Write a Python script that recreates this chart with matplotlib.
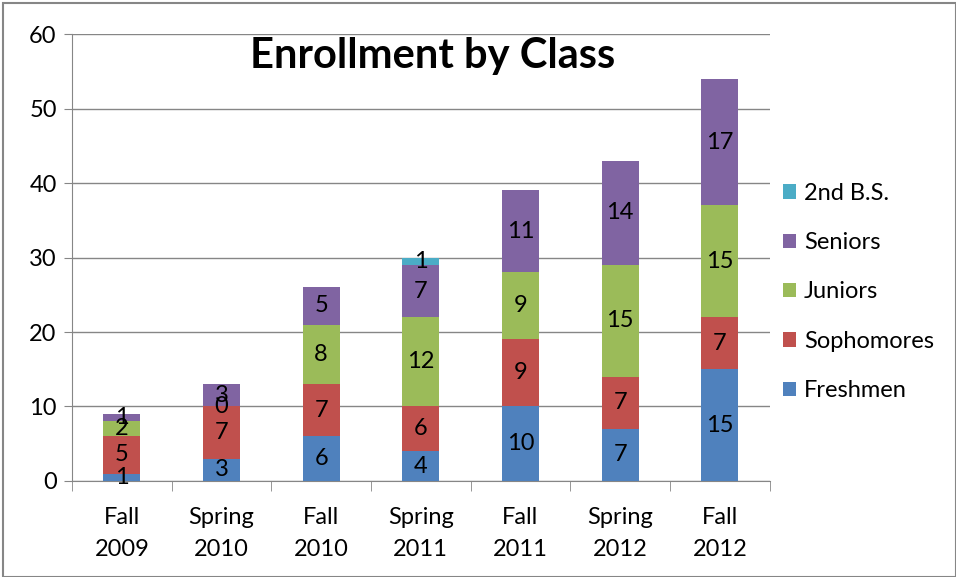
import numpy as np
import matplotlib.pyplot as plt
from matplotlib.patches import Rectangle

plt.rcParams['font.family'] = ['Lato', 'DejaVu Sans']

# chart data
terms = ['Fall\n2009', 'Spring\n2010', 'Fall\n2010', 'Spring\n2011', 'Fall\n2011', 'Spring\n2012', 'Fall\n2012']
freshmen = [1, 3, 6, 4, 10, 7, 15]
sophomores = [5, 7, 7, 6, 9, 7, 7]
juniors = [2, 0, 8, 12, 9, 15, 15]
seniors = [1, 3, 5, 7, 11, 14, 17]
second_bs = [None, None, None, 1, None, None, None]

series = [('Freshmen', freshmen, '#4F81BD'),
          ('Sophomores', sophomores, '#C0504D'),
          ('Juniors', juniors, '#9BBB59'),
          ('Seniors', seniors, '#8064A2'),
          ('2nd B.S.', second_bs, '#4BACC6')]

fig = plt.figure(figsize=(9.56, 5.77), dpi=100)
ax = fig.add_axes([0.0753, 0.1664, 0.7297, 0.7746])

x = np.arange(len(terms))
bottom = np.zeros(len(terms))
handles = []
for name, vals, color in series:
    v = np.array([0 if a is None else a for a in vals], dtype=float)
    bars = ax.bar(x, v, 0.37, bottom=bottom, color=color, label=name, zorder=3)
    handles.append(bars)
    for i, a in enumerate(vals):
        if a is None:
            continue
        ax.text(x[i], bottom[i] + v[i] / 2, str(a), ha='center', va='center',
                fontsize=17, zorder=4)
    bottom += v

ax.set_xlim(-0.5, len(terms) - 0.5)
ax.set_ylim(0, 60)
ax.set_yticks(range(0, 61, 10))
ax.set_xticks(x)
ax.set_xticklabels(terms, fontsize=17, linespacing=1.65)
ax.tick_params(axis='x', length=0, pad=19)
ax.set_xticks(np.arange(-0.5, len(terms), 1), minor=True)
ax.tick_params(axis='x', which='minor', length=7, color='#868686')
ax.tick_params(axis='y', labelsize=17, length=6, color='#868686', pad=5)
ax.grid(axis='y', color='#868686', linewidth=1, zorder=0)
for s in ['top', 'right']:
    ax.spines[s].set_visible(False)
for s in ['left', 'bottom']:
    ax.spines[s].set_color('#868686')

fig.text(0.453, 0.903, 'Enrollment by Class', ha='center', va='center',
         fontsize=30, fontweight='bold')

ax.legend(handles[::-1], [s[0] for s in series][::-1], loc='center left',
          bbox_to_anchor=(1.0, 0.423), frameon=False, fontsize=17,
          handlelength=0.55, handleheight=0.55, labelspacing=1.2, handletextpad=0.35,
          borderaxespad=0.15)

fig.patches.append(Rectangle((0.003, 0.0), 0.997, 0.995, transform=fig.transFigure,
                             fill=False, edgecolor='#868686', linewidth=1.5))

fig.savefig('out.png', dpi=100)
